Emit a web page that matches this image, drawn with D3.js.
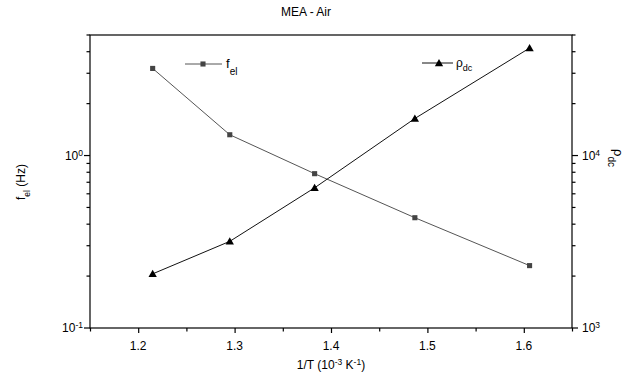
<!DOCTYPE html>
<html>
<head>
<meta charset="utf-8">
<title>MEA - Air</title>
<script src="https://cdn.jsdelivr.net/npm/d3@7"></script>
<style>
  body { margin: 0; background: #fff; }
  text { font-family: "Liberation Sans", Arial, sans-serif; fill: #000; }
</style>
</head>
<body>
<div id="chart"></div>
<script>
// data
const invT = [1.215, 1.295, 1.383, 1.487, 1.606];
const fel = [3.2, 1.32, 0.785, 0.436, 0.23];
const rhoDc = [2060, 3180, 6500, 16400, 42000];
const xTicks = [1.2, 1.3, 1.4, 1.5, 1.6];

const width = 636, height = 379;
const m = { left: 90, right: 64, top: 35, bottom: 51 };

const svg = d3.select("#chart").append("svg")
    .attr("width", width)
    .attr("height", height);

const x = d3.scaleLinear().domain([1.15, 1.65]).range([m.left, width - m.right]);
const yL = d3.scaleLog().domain([0.1, 5]).range([height - m.bottom, m.top]);
const yR = d3.scaleLog().domain([1000, 50000]).range([height - m.bottom, m.top]);

// frame
svg.append("rect")
    .attr("x", m.left).attr("y", m.top)
    .attr("width", width - m.left - m.right)
    .attr("height", height - m.top - m.bottom)
    .attr("fill", "none").attr("stroke", "#000").attr("stroke-width", 1.2);

// x axis
const xAxis = svg.append("g").attr("transform", `translate(0,${height - m.bottom})`);
xAxis.call(d3.axisBottom(x).tickValues(d3.range(1.15, 1.651, 0.05)).tickSize(5).tickFormat(""))
    .call(g => g.select(".domain").remove());
xAxis.selectAll(".tick line").attr("stroke-width", 1.2)
    .attr("y2", d => xTicks.some(t => Math.abs(t - d) < 1e-6) ? 5 : 3.5);
xAxis.selectAll(".lbl").data(xTicks).enter().append("text")
    .attr("x", d => x(d)).attr("y", 22)
    .attr("text-anchor", "middle").attr("font-size", 12)
    .text(d => d.toFixed(1));

// log axes with minor ticks
function logTicks(scale) {
  const [a, b] = scale.domain();
  const out = [];
  for (let e = Math.floor(Math.log10(a)); e <= Math.ceil(Math.log10(b)); e++) {
    for (let k = 1; k < 10; k++) {
      const v = k * Math.pow(10, e);
      if (v >= a * 0.999 && v <= b * 1.001) out.push({ v, major: k === 1, e });
    }
  }
  return out;
}

function supLabel(g, base, exp, anchor) {
  const t = g.append("text").attr("font-size", 12).attr("text-anchor", anchor).attr("dy", "0.35em");
  t.append("tspan").text(base);
  t.append("tspan").attr("font-size", 8.5).attr("dy", "-0.45em").text(exp);
}

const left = svg.append("g");
logTicks(yL).forEach(t => {
  left.append("line")
      .attr("x1", m.left).attr("x2", m.left - (t.major ? 6 : 3.5))
      .attr("y1", yL(t.v)).attr("y2", yL(t.v))
      .attr("stroke", "#000").attr("stroke-width", 1.2);
  if (t.major) {
    const g = left.append("g").attr("transform", `translate(${m.left - 7},${yL(t.v)})`);
    supLabel(g, "10", String(t.e), "end");
  }
});

const right = svg.append("g");
const xr = width - m.right;
logTicks(yR).forEach(t => {
  right.append("line")
      .attr("x1", xr).attr("x2", xr + (t.major ? 6 : 3.5))
      .attr("y1", yR(t.v)).attr("y2", yR(t.v))
      .attr("stroke", "#000").attr("stroke-width", 1.2);
  if (t.major) {
    const g = right.append("g").attr("transform", `translate(${xr + 10},${yR(t.v)})`);
    supLabel(g, "10", String(t.e), "start");
  }
});

// series lines
const lineF = d3.line().x((d, i) => x(invT[i])).y(d => yL(d));
const lineR = d3.line().x((d, i) => x(invT[i])).y(d => yR(d));

svg.append("path").attr("d", lineF(fel))
    .attr("fill", "none").attr("stroke", "#555").attr("stroke-width", 1);
svg.append("path").attr("d", lineR(rhoDc))
    .attr("fill", "none").attr("stroke", "#111").attr("stroke-width", 1);

const sq = d3.symbol().type(d3.symbolSquare).size(26);
const tri = d3.symbol().type(d3.symbolTriangle).size(30);

svg.selectAll(".sq").data(fel).enter().append("path")
    .attr("d", sq)
    .attr("transform", (d, i) => `translate(${x(invT[i])},${yL(d)})`)
    .attr("fill", "#444");
svg.selectAll(".tri").data(rhoDc).enter().append("path")
    .attr("d", tri)
    .attr("transform", (d, i) => `translate(${x(invT[i])},${yR(d) + 0.8})`)
    .attr("fill", "#000");

// legends
const lg1 = svg.append("g").attr("transform", "translate(185,64)");
lg1.append("line").attr("x1", 0).attr("x2", 37).attr("stroke", "#555");
lg1.append("path").attr("d", sq).attr("transform", "translate(18,0)").attr("fill", "#444");
const l1 = lg1.append("text").attr("x", 41).attr("y", 4).attr("font-size", 13);
l1.append("tspan").text("f");
l1.append("tspan").attr("font-size", 10).attr("dy", 7).text("el");

const lg2 = svg.append("g").attr("transform", "translate(422,63)");
lg2.append("line").attr("x1", 0).attr("x2", 31).attr("stroke", "#111");
lg2.append("path").attr("d", tri).attr("transform", "translate(17,0.8)").attr("fill", "#000");
const l2 = lg2.append("text").attr("x", 34).attr("y", 4).attr("font-size", 12);
l2.append("tspan").text("ρ");
l2.append("tspan").attr("font-size", 9).attr("dy", 4).text("dc");

// title
svg.append("text").attr("x", 306).attr("y", 16)
    .attr("text-anchor", "middle").attr("font-size", 12).text("MEA - Air");

// x label
const xl = svg.append("text").attr("x", 331).attr("y", 369)
    .attr("text-anchor", "middle").attr("font-size", 12);
xl.append("tspan").text("1/T (10");
xl.append("tspan").attr("font-size", 8.5).attr("dy", -4).text("-3");
xl.append("tspan").attr("dy", 4).text(" K");
xl.append("tspan").attr("font-size", 8.5).attr("dy", -4).text("-1");
xl.append("tspan").attr("dy", 4).text(")");

// left y label
const yl = svg.append("text")
    .attr("transform", "translate(25,182) rotate(-90)")
    .attr("text-anchor", "middle").attr("font-size", 12);
yl.append("tspan").text("f");
yl.append("tspan").attr("font-size", 8.5).attr("dy", 5).text("el");
yl.append("tspan").attr("dy", -5).text(" (Hz)");

// right y label
const yr = svg.append("text")
    .attr("transform", "translate(614,158) rotate(90)")
    .attr("text-anchor", "middle").attr("font-size", 13);
yr.append("tspan").text("ρ");
yr.append("tspan").attr("font-size", 10).attr("dy", 6).text("dc");
</script>
</body>
</html>
